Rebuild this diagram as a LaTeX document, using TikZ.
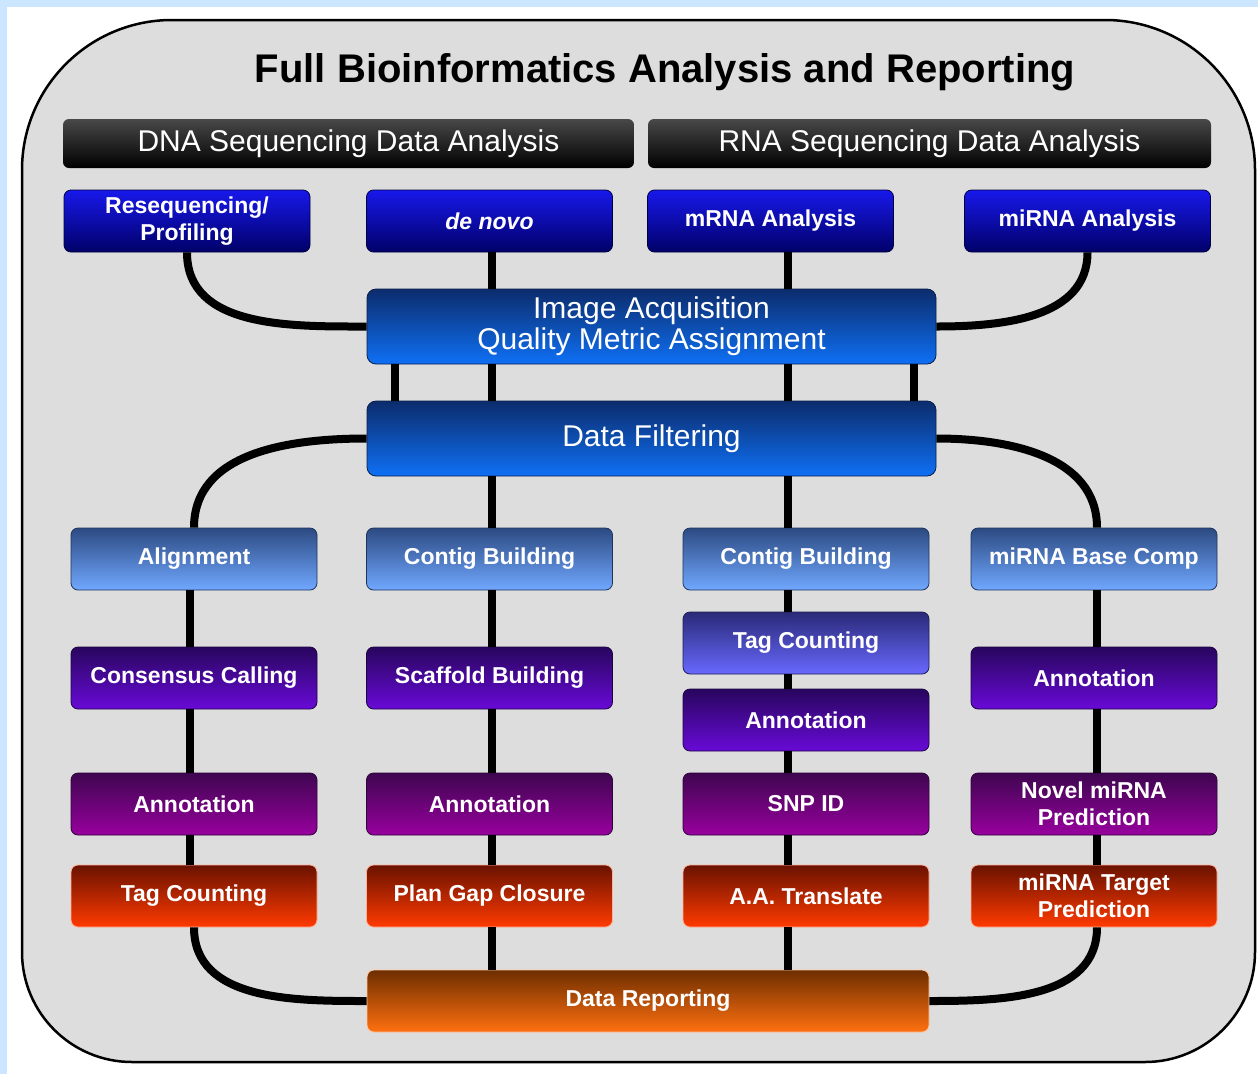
\documentclass[tikz,border=0pt]{standalone}
\usepackage{fontspec}
\setmainfont{Liberation Sans}
\usetikzlibrary{positioning}

\definecolor{frameblue}{RGB}{204,230,255}
\definecolor{panelgray}{RGB}{221,221,221}
\definecolor{headtop}{RGB}{72,72,72}
\definecolor{deeptop}{RGB}{24,24,235}
\definecolor{deepbot}{RGB}{0,0,105}
\definecolor{azuretop}{RGB}{12,44,108}
\definecolor{azurebot}{RGB}{14,112,245}
\definecolor{skytop}{RGB}{44,74,130}
\definecolor{skybot}{RGB}{112,168,255}
\definecolor{lilactop}{RGB}{42,42,120}
\definecolor{lilacbot}{RGB}{104,104,255}
\definecolor{violettop}{RGB}{40,6,94}
\definecolor{violetbot}{RGB}{104,10,215}
\definecolor{plumtop}{RGB}{62,6,80}
\definecolor{plumbot}{RGB}{152,0,158}
\definecolor{embertop}{RGB}{106,18,0}
\definecolor{emberbot}{RGB}{255,58,0}
\definecolor{ambertop}{RGB}{110,46,0}
\definecolor{amberbot}{RGB}{255,112,16}

\begin{document}
\begin{tikzpicture}[x=1pt, y=-1pt,
  box/.style={rectangle, rounded corners=7pt, line width=0.8pt,
    minimum width=246pt, minimum height=62pt, inner sep=0pt, align=center,
    text=white, font=\fontsize{23}{27}\selectfont\bfseries},
  deep/.style={box, top color=deeptop, bottom color=deepbot, draw=deepbot!60!black},
  sky/.style={box, top color=skytop, bottom color=skybot, draw=skytop!70!black},
  lilac/.style={box, top color=lilactop, bottom color=lilacbot, draw=lilactop!70!black},
  violet/.style={box, top color=violettop, bottom color=violetbot, draw=violettop!70!black},
  plum/.style={box, top color=plumtop, bottom color=plumbot, draw=plumtop!70!black},
  ember/.style={box, top color=embertop, bottom color=emberbot, draw=emberbot!40!white},
  amber/.style={box, top color=ambertop, bottom color=amberbot, draw=amberbot!40!white},
  wide/.style={box, top color=azuretop, bottom color=azurebot, draw=azuretop!70!black,
    rounded corners=9pt, minimum width=569pt, minimum height=75pt,
    font=\fontsize{30}{31}\selectfont},
  head/.style={rectangle, rounded corners=6pt, top color=headtop, bottom color=black,
    minimum height=49pt, text=white, font=\fontsize{30}{34}\selectfont},
  link/.style={line width=8pt, black}]

  \useasboundingbox (0,0) rectangle (1258,1074);
  \fill[white] (0,0) rectangle (1258,1074);
  \fill[frameblue] (0,0) rectangle (7,1074);
  \fill[frameblue] (0,0) rectangle (1258,7);

  % rounded panel behind everything
  \draw[line width=2.5pt, fill=panelgray] (22,540) [rounded corners=150pt] |- (640,20)
    -| (1255,540) [rounded corners=110pt] |- (640,1062) -| (22,540) -- cycle;

  \node[anchor=base, font=\fontsize{40}{44}\selectfont\bfseries] (title) at (665,82)
    {Full Bioinformatics Analysis and Reporting};

  \node[head, minimum width=571pt] (dnahead) at (348.5,143.5) {DNA Sequencing Data Analysis};
  \node[head, minimum width=563pt] (rnahead) at (929.5,143.5) {RNA Sequencing Data Analysis};

  % sequencing types
  \node[deep] (reseq) at (187,221) {Resequencing/\\Profiling};
  \node[deep] (denovo) at (489.5,221) {\itshape de novo};
  \node[deep] (mrna) at (770.5,221) {mRNA Analysis};
  \node[deep] (mirna) at (1087.5,221) {miRNA Analysis};

  % shared steps
  \node[wide] (acq) at (651.5,326.5) {Image Acquisition\\Quality Metric Assignment};
  \node[wide] (filter) at (651.5,438.5) {Data Filtering};

  % first step of each pipeline
  \node[sky] (align) at (194,559) {Alignment};
  \node[sky] (contigdna) at (489.5,559) {Contig Building};
  \node[sky] (contigrna) at (806,559) {Contig Building};
  \node[sky] (basecomp) at (1094,559) {miRNA Base Comp};

  \node[violet] (consensus) at (194,678) {Consensus Calling};
  \node[violet] (scaffold) at (489.5,678) {Scaffold Building};
  \node[lilac] (tagrna) at (806,643) {Tag Counting};
  \node[violet] (annotmirna) at (1094,678) {Annotation};
  \node[violet] (annotmrna) at (806,720) {Annotation};

  \node[plum] (annotreseq) at (194,804) {Annotation};
  \node[plum] (annotdenovo) at (489.5,804) {Annotation};
  \node[plum] (snp) at (806,804) {SNP ID};
  \node[plum] (novel) at (1094,804) {Novel miRNA\\Prediction};

  \node[ember] (tagdna) at (194,896) {Tag Counting};
  \node[ember] (gap) at (489.5,896) {Plan Gap Closure};
  \node[ember] (translate) at (806,896) {A.A. Translate};
  \node[ember] (target) at (1094,896) {miRNA Target\\Prediction};

  \node[amber, minimum width=562pt] (report) at (648,1001) {Data Reporting};

  % x positions of the vertical links
  \coordinate (xa) at (190,0);
  \coordinate (xb) at (492,0);
  \coordinate (xc) at (788,0);
  \coordinate (xd) at (1097,0);
  \coordinate (xe) at (395,0);
  \coordinate (xf) at (914,0);

  \draw[link] (reseq.south) to[out=-90, in=180] (acq.west);
  \draw[link] (denovo.south -| xb) -- (acq.north -| xb);
  \draw[link] (mrna.south -| xc) -- (acq.north -| xc);
  \draw[link] (mirna.south) to[out=-90, in=0] (acq.east);

  \foreach \x in {xe, xb, xc, xf}
    \draw[link] (acq.south -| \x) -- (filter.north -| \x);

  \draw[link] (filter.west) to[out=180, in=90] (align.north);
  \draw[link] (filter.south -| xb) -- (contigdna.north -| xb);
  \draw[link] (filter.south -| xc) -- (contigrna.north -| xc);
  \draw[link] (filter.east) to[out=0, in=90] (basecomp.north -| xd);

  \draw[link] (align.south -| xa) -- (consensus.north -| xa);
  \draw[link] (consensus.south -| xa) -- (annotreseq.north -| xa);
  \draw[link] (annotreseq.south -| xa) -- (tagdna.north -| xa);

  \draw[link] (contigdna.south -| xb) -- (scaffold.north -| xb);
  \draw[link] (scaffold.south -| xb) -- (annotdenovo.north -| xb);
  \draw[link] (annotdenovo.south -| xb) -- (gap.north -| xb);

  \draw[link] (contigrna.south -| xc) -- (tagrna.north -| xc);
  \draw[link] (tagrna.south -| xc) -- (annotmrna.north -| xc);
  \draw[link] (annotmrna.south -| xc) -- (snp.north -| xc);
  \draw[link] (snp.south -| xc) -- (translate.north -| xc);

  \draw[link] (basecomp.south -| xd) -- (annotmirna.north -| xd);
  \draw[link] (annotmirna.south -| xd) -- (novel.north -| xd);
  \draw[link] (novel.south -| xd) -- (target.north -| xd);

  \draw[link] (tagdna.south) to[out=-90, in=180] (report.west);
  \draw[link] (gap.south -| xb) -- (report.north -| xb);
  \draw[link] (translate.south -| xc) -- (report.north -| xc);
  \draw[link] (target.south -| xd) to[out=-90, in=0] (report.east);
\end{tikzpicture}
\end{document}
